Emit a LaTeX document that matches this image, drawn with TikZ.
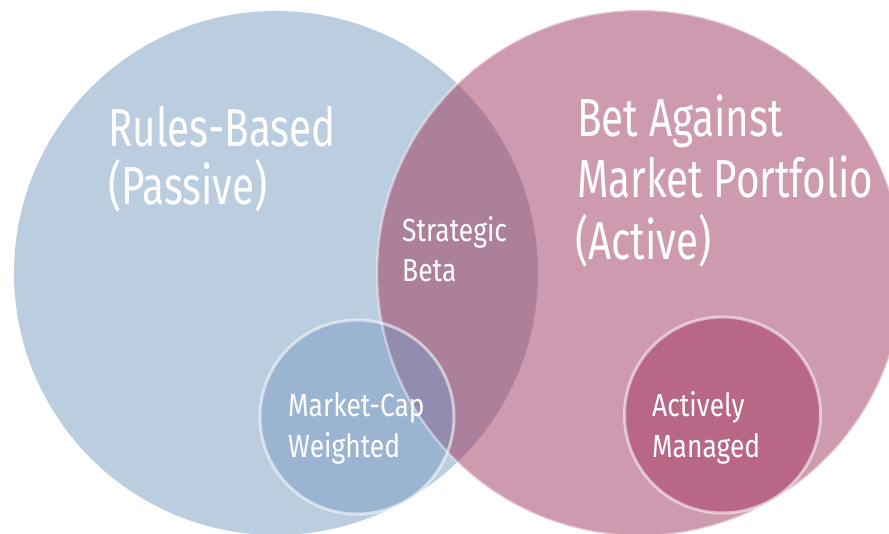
\documentclass[tikz,border=0pt]{standalone}
\usepackage{fontspec}
\newfontfamily\biglblfont{Fira Sans}[FakeStretch=0.755]
\newfontfamily\smalllblfont{Fira Sans}[FakeStretch=0.825]
\definecolor{bigblue}{HTML}{BBCEDF}
\definecolor{bigpink}{HTML}{CE9AAF}
\definecolor{overlapc}{HTML}{AC7F9B}
\definecolor{smallblue}{HTML}{9BB4D1}
\definecolor{smallmix}{HTML}{928CAE}
\definecolor{activec}{HTML}{B86787}
\tikzset{
  biglbl/.style={anchor=base west, inner sep=0pt, text=white, font=\biglblfont\fontsize{53.5}{60}\selectfont},
  smalllbl/.style={anchor=base west, inner sep=0pt, text=white, font=\smalllblfont\fontsize{32}{40}\selectfont},
  rim/.style={draw=white, draw opacity=0.55, line width=3pt}
}
\begin{document}
\begin{tikzpicture}[x=1pt,y=-1pt]
\useasboundingbox (0,0) rectangle (889,534);
% big circles
\coordinate (cl) at (276,273);
\coordinate (cr) at (640,273);
\coordinate (cs) at (357,417);
\coordinate (ca) at (722.5,415);
\fill[bigblue] (cl) circle[radius=262pt];
\fill[bigpink] (cr) circle[radius=263pt];
\begin{scope}
  \clip (cl) circle[radius=262pt];
  \fill[overlapc] (cr) circle[radius=263pt];
\end{scope}
% small market-cap circle
\fill[smallblue] (cs) circle[radius=97pt];
\begin{scope}
  \clip (cs) circle[radius=97pt];
  \fill[smallmix] (cr) circle[radius=263pt];
\end{scope}
% rim of the right big circle
\draw[rim, draw opacity=0.45, line width=2.5pt] (cr) circle[radius=263pt];
\draw[rim] (cs) circle[radius=97pt];
% actively managed circle
\fill[activec] (ca) circle[radius=98pt];
\draw[rim] (ca) circle[radius=98pt];
% labels
\node[biglbl] (rb1) at (108,147) {Rules-Based};
\node[biglbl] (rb2) at (108,205) {(Passive)};
\node[biglbl] (ba1) at (577,137) {Bet Against};
\node[biglbl] (ba2) at (577,198) {Market Portfolio};
\node[biglbl] (ba3) at (575,260) {(Active)};
\node[smalllbl] (sb1) at (402,242) {Strategic};
\node[smalllbl] (sb2) at (402,282) {Beta};
\node[smalllbl] (mc1) at (288,417) {Market-Cap};
\node[smalllbl] (mc2) at (288,457) {Weighted};
\node[smalllbl] (am1) at (652,417) {Actively};
\node[smalllbl] (am2) at (652,457) {Managed};
\end{tikzpicture}
\end{document}
